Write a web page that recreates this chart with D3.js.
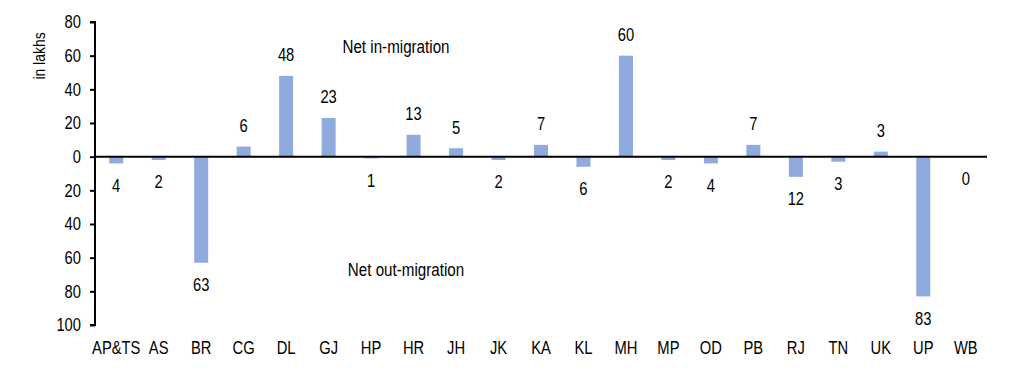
<!DOCTYPE html>
<html>
<head>
<meta charset="utf-8">
<script src="https://cdn.jsdelivr.net/npm/d3@7"></script>
<style>
  body { margin: 0; background: #fff; }
  svg text { font-family: "Liberation Sans", Arial, sans-serif; fill: #000; }
</style>
</head>
<body>
<svg class="chart"></svg>
<script>
// states and net migration (in lakhs)
const states = ["AP&TS", "AS", "BR", "CG", "DL", "GJ", "HP", "HR", "JH", "JK", "KA",
                "KL", "MH", "MP", "OD", "PB", "RJ", "TN", "UK", "UP", "WB"];
const netMigration = [-4, -2, -63, 6, 48, 23, -1, 13, 5, -2, 7,
                      -6, 60, -2, -4, 7, -12, -3, 3, -83, 0];
const yTicks = [80, 60, 40, 20, 0, -20, -40, -60, -80, -100];

var margin = {top: 22, right: 22, bottom: 47, left: 95},
    width = 1009 - margin.left - margin.right,
    height = 372 - margin.top - margin.bottom;

var narrow = 0.82; // squeeze text like Arial Narrow

var svg = d3.select(".chart")
    .attr("width", 1009)
    .attr("height", 372);

var chart = svg.append("g")
    .attr("transform", "translate(" + margin.left + "," + margin.top + ")");

var x = d3.scaleBand()
    .domain(states)
    .range([0, width])
    .paddingInner(0.67)
    .paddingOuter(0.335);

var y = d3.scaleLinear()
    .domain([-100, 80])
    .range([height, 0]);

// bars
chart.selectAll(".bar")
    .data(states)
    .enter().append("rect")
    .attr("class", "bar")
    .attr("x", d => x(d))
    .attr("width", x.bandwidth())
    .attr("y", (d, i) => y(Math.max(0, netMigration[i])))
    .attr("height", (d, i) => Math.abs(y(netMigration[i]) - y(0)))
    .attr("fill", "#8faadc");

// value labels
chart.selectAll(".val")
    .data(states)
    .enter().append("text")
    .attr("class", "val")
    .attr("x", d => x(d) + x.bandwidth() / 2)
    .attr("y", (d, i) => netMigration[i] > 0 ? y(netMigration[i]) - 21 : y(netMigration[i]) + 22)
    .attr("dy", "0.35em")
    .attr("text-anchor", "middle")
    .style("font-size", "18px")
    .text((d, i) => Math.abs(netMigration[i]));

// y axis
var yAxis = d3.axisLeft(y)
    .tickValues(yTicks)
    .tickSize(5)
    .tickPadding(9)
    .tickFormat(d => Math.abs(d));

var ya = chart.append("g")
    .attr("class", "y axis")
    .call(yAxis);
ya.select(".domain").attr("stroke", "#000").attr("stroke-width", 2).attr("d", "M-5," + y(-100) + "H0V" + y(80) + "H-5");
ya.selectAll(".tick line").attr("stroke", "#000").attr("stroke-width", 2);
ya.selectAll("text").style("font-size", "18px").style("font-family", null);
ya.attr("font-family", null).attr("font-size", null);

// zero line
chart.append("line")
    .attr("x1", 0).attr("x2", width)
    .attr("y1", y(0)).attr("y2", y(0))
    .attr("stroke", "#000")
    .attr("stroke-width", 2);

// category labels
chart.selectAll(".cat")
    .data(states)
    .enter().append("text")
    .attr("class", "cat")
    .attr("x", d => x(d) + x.bandwidth() / 2)
    .attr("y", height + 23)
    .attr("dy", "0.35em")
    .attr("text-anchor", "middle")
    .style("font-size", "18px")
    .text(d => d);

// y label
svg.append("text")
    .attr("transform", "translate(39,56) rotate(-90)")
    .attr("dy", "0.35em")
    .attr("text-anchor", "middle")
    .style("font-size", "17px")
    .text("in lakhs");

// annotations
chart.append("text")
    .attr("x", 396 - margin.left)
    .attr("y", 47 - margin.top)
    .attr("dy", "0.35em")
    .attr("text-anchor", "middle")
    .style("font-size", "18.5px")
    .text("Net in-migration");

chart.append("text")
    .attr("x", 406 - margin.left)
    .attr("y", 270 - margin.top)
    .attr("dy", "0.35em")
    .attr("text-anchor", "middle")
    .style("font-size", "18.5px")
    .text("Net out-migration");

// condense every text horizontally around its anchor
svg.selectAll("text").each(function() {
    var t = d3.select(this);
    var tx = +t.attr("x") || 0;
    var prev = t.attr("transform") || "";
    t.attr("transform", prev + " translate(" + tx + ",0) scale(" + narrow + ",1) translate(" + (-tx) + ",0)");
});
</script>
</body>
</html>
